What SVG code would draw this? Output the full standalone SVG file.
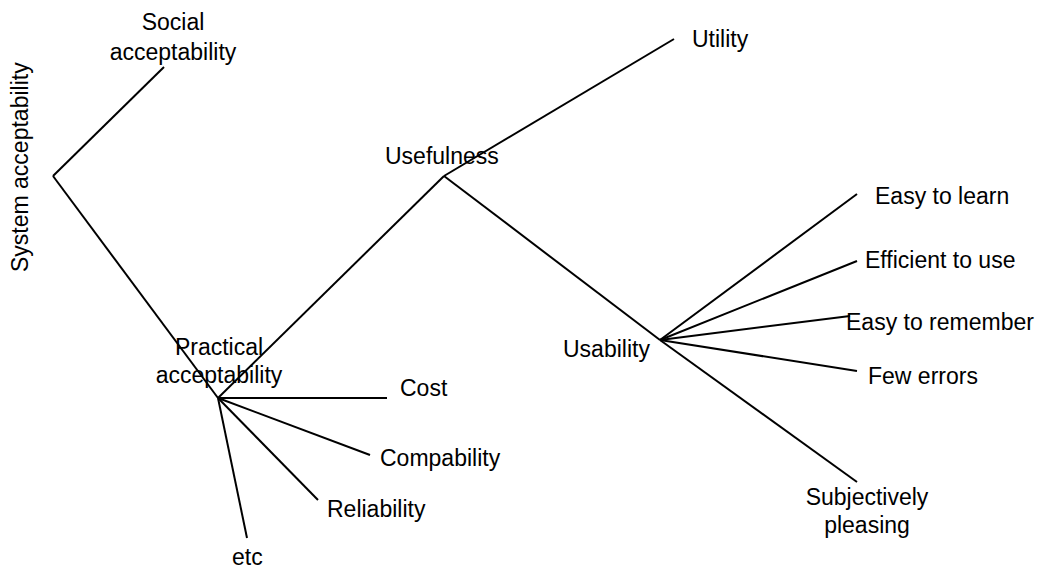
<svg xmlns="http://www.w3.org/2000/svg" width="1042" height="569" viewBox="0 0 1042 569">
<style>
.c line{stroke:#000;stroke-width:2;stroke-linecap:butt}
text{font-family:"Liberation Sans",Arial,sans-serif;font-size:23px;fill:#000}
.m{text-anchor:middle}
</style>
<rect width="1042" height="569" fill="#fff"/>
<g class="c" id="connectors">
<line x1="53" y1="176" x2="164" y2="67"/>
<line x1="53" y1="176" x2="218" y2="398"/>
<line x1="218" y1="398" x2="444" y2="176"/>
<line x1="444" y1="176" x2="674" y2="39"/>
<line x1="444" y1="176" x2="660" y2="340"/>
<line x1="660" y1="340" x2="857" y2="482"/>
<line x1="660" y1="340" x2="857" y2="194"/>
<line x1="660" y1="340" x2="857" y2="261"/>
<line x1="660" y1="340" x2="850" y2="316"/>
<line x1="660" y1="340" x2="857" y2="371"/>
<line x1="218" y1="398" x2="387" y2="398"/>
<line x1="218" y1="398" x2="370" y2="455"/>
<line x1="218" y1="398" x2="318" y2="500"/>
<line x1="218" y1="398" x2="247" y2="538"/>
</g>
<g id="system"><text transform="translate(28,272) rotate(-90)">System acceptability</text></g>
<g id="social"><text class="m" x="173" y="30">Social</text><text class="m" x="173" y="60">acceptability</text></g>
<g id="practical"><text class="m" x="219" y="355">Practical</text><text class="m" x="219" y="383">acceptability</text></g>
<g id="usefulness"><text x="385" y="164">Usefulness</text></g>
<g id="utility"><text x="692" y="47">Utility</text></g>
<g id="usability"><text x="563" y="357">Usability</text></g>
<g id="learn"><text x="875" y="204">Easy to learn</text></g>
<g id="efficient"><text x="865" y="268">Efficient to use</text></g>
<g id="remember"><text x="846" y="330">Easy to remember</text></g>
<g id="errors"><text x="868" y="384">Few errors</text></g>
<g id="pleasing"><text class="m" x="867" y="505">Subjectively</text><text class="m" x="867" y="533">pleasing</text></g>
<g id="cost"><text x="400" y="396">Cost</text></g>
<g id="compability"><text x="380" y="466">Compability</text></g>
<g id="reliability"><text x="327" y="517">Reliability</text></g>
<g id="etc"><text x="232" y="565">etc</text></g>
</svg>
